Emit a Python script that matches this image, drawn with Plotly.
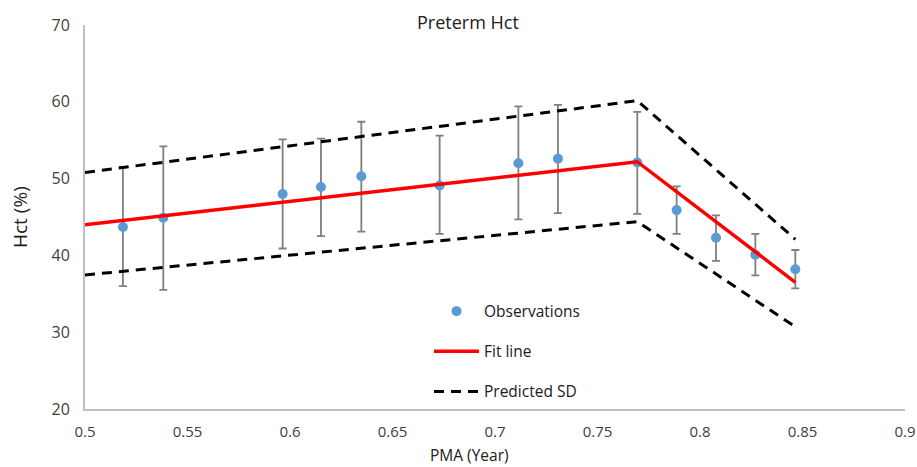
import plotly.graph_objects as go

# Observations
obs_x = [0.5185, 0.5382, 0.5964, 0.6151, 0.6348, 0.6730, 0.7114, 0.7307, 0.7694, 0.7886, 0.8078, 0.8270, 0.8465]
obs_y = [43.7, 44.9, 48.0, 48.9, 50.3, 49.1, 52.0, 52.6, 52.1, 45.9, 42.3, 40.1, 38.2]
err_hi = [51.5, 54.2, 55.1, 55.2, 57.4, 55.6, 59.4, 59.6, 58.7, 49.0, 45.2, 42.8, 40.7]
err_lo = [36.0, 35.5, 40.9, 42.5, 43.1, 42.8, 44.7, 45.5, 45.4, 42.8, 39.3, 37.4, 35.7]

# Fit line and predicted SD
fit_x = [0.5, 0.7694, 0.8465]
fit_y = [44.0, 52.2, 36.5]
sd_hi_y = [50.8, 60.15, 42.1]
sd_lo_y = [37.45, 44.4, 30.7]

x_ticks = [0.5, 0.55, 0.6, 0.65, 0.7, 0.75, 0.8, 0.85, 0.9]
x_tick_labels = ["0.5", "0.55", "0.6", "0.65", "0.7", "0.75", "0.8", "0.85", "0.9"]
y_ticks = [20, 30, 40, 50, 60, 70]

FONT = "Open Sans"
TXT = "#404040"

fig = go.Figure()

fig.add_trace(go.Scatter(
    x=obs_x, y=obs_y, mode="markers", name="Observations",
    marker=dict(color="#5B9BD5", size=10),
    error_y=dict(type="data", symmetric=False,
                 array=[h - y for h, y in zip(err_hi, obs_y)],
                 arrayminus=[y - l for l, y in zip(err_lo, obs_y)],
                 color="#7F7F7F", thickness=1.8, width=4),
    legendgroup="a",
))
fig.add_trace(go.Scatter(
    x=fit_x, y=fit_y, mode="lines", name="Fit line",
    line=dict(color="#FF0000", width=3.5),
    legendgroup="b",
))
fig.add_trace(go.Scatter(
    x=fit_x, y=sd_hi_y, mode="lines", name="Predicted SD",
    line=dict(color="black", width=3, dash="10px,7px"),
    legendgroup="c",
))
fig.add_trace(go.Scatter(
    x=fit_x, y=sd_lo_y, mode="lines", name="Predicted SD",
    line=dict(color="black", width=3, dash="10px,7px"),
    showlegend=False, legendgroup="c",
))

fig.update_layout(
    width=917, height=467,
    margin=dict(l=85, r=12, t=25, b=58, autoexpand=False),
    paper_bgcolor="white", plot_bgcolor="white",
    font=dict(family=FONT, color=TXT, size=14),
    showlegend=True,
    legend=dict(x=0.4195, y=0.298, xanchor="left", yanchor="top",
                bgcolor="rgba(0,0,0,0)", traceorder="grouped", tracegroupgap=17,
                itemwidth=45, font=dict(family=FONT, size=15.5, color="#202020")),
    xaxis=dict(range=[0.5, 0.9], tickvals=x_ticks, ticktext=x_tick_labels,
               showgrid=False, zeroline=False, showline=True, linecolor="#BFBFBF",
               linewidth=2, ticks="", tickfont=dict(size=15, color=TXT),
               ticklabelstandoff=8, automargin=False),
    yaxis=dict(range=[20, 70], tickvals=y_ticks,
               showgrid=False, zeroline=False, showline=True, linecolor="#BFBFBF",
               linewidth=2, ticks="", tickfont=dict(size=16, color=TXT),
               ticklabelstandoff=10, automargin=False),
    annotations=[
        dict(text="Preterm Hct", xref="paper", yref="paper", x=(468 - 85) / 820, y=1 + (25 - 22) / 384,
             showarrow=False, xanchor="center", yanchor="middle",
             font=dict(family=FONT, size=18, color="#202020")),
        dict(text="PMA (Year)", xref="paper", yref="paper", x=(469 - 85) / 820, y=-(455 - 409) / 384,
             showarrow=False, xanchor="center", yanchor="middle",
             font=dict(family=FONT, size=15.5, color="#202020")),
        dict(text="Hct (%)", xref="paper", yref="paper", x=-(85 - 20) / 820, y=(409 - 217) / 384,
             showarrow=False, xanchor="center", yanchor="middle", textangle=-90,
             font=dict(family=FONT, size=19, color="#202020")),
    ],
)

fig.write_html("out.html")
